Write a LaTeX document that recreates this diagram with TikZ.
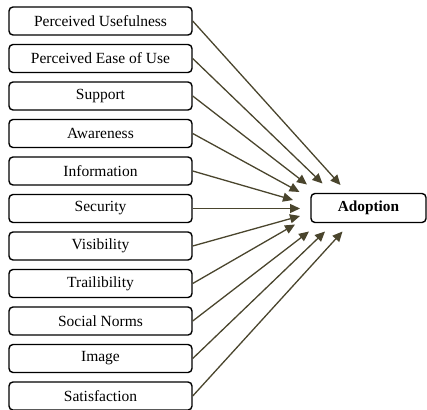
\documentclass[tikz,border=0pt]{standalone}
\usepackage{fontspec}
\setmainfont{Liberation Serif}
\usetikzlibrary{arrows.meta}
\definecolor{arrowc}{RGB}{74,69,45}
\begin{document}
\begin{tikzpicture}[x=1pt,y=-1pt,
  factor/.style={draw=black, line width=1.4pt, rounded corners=4pt, minimum width=183pt, minimum height=28pt, inner sep=0pt, font=\fontsize{15.5}{17}\selectfont},
  target/.style={draw=black, line width=1.4pt, rounded corners=4pt, minimum width=115pt, minimum height=29pt, inner sep=0pt, font=\fontsize{15.3}{17}\selectfont\bfseries},
  link/.style={draw=arrowc, line width=1.3pt, -{Triangle[length=10pt,width=9pt]}}]
\useasboundingbox (0,0) rectangle (427,409);
\node[factor] (f1) at (100.5,21) {Perceived Usefulness};
\node[factor] (f2) at (100.5,58.5) {Perceived Ease of Use};
\node[factor] (f3) at (100.5,96) {Support};
\node[factor] (f4) at (100.5,133.5) {Awareness};
\node[factor] (f5) at (100.5,171) {Information};
\node[factor] (f6) at (100.5,208.5) {Security};
\node[factor] (f7) at (100.5,246) {Visibility};
\node[factor] (f8) at (100.5,283.5) {Trailibility};
\node[factor] (f9) at (100.5,321) {Social Norms};
\node[factor] (f10) at (100.5,358.5) {Image};
\node[factor] (f11) at (100.5,396) {Satisfaction};
\node[target] (ad) at (368.5,208) {Adoption};
\coordinate (t1) at (340.5,185);
\coordinate (t2) at (322.5,183.5);
\coordinate (t3) at (307,184.5);
\coordinate (t4) at (299.5,192);
\coordinate (t5) at (293,200);
\coordinate (t6) at (300,208.5);
\coordinate (t7) at (300,216);
\coordinate (t8) at (295,224.5);
\coordinate (t9) at (309,231.5);
\coordinate (t10) at (325,231.5);
\coordinate (t11) at (342.5,231.5);
\foreach \i in {1,...,11} {\draw[link] (f\i.east) -- (t\i);}
\end{tikzpicture}
\end{document}
